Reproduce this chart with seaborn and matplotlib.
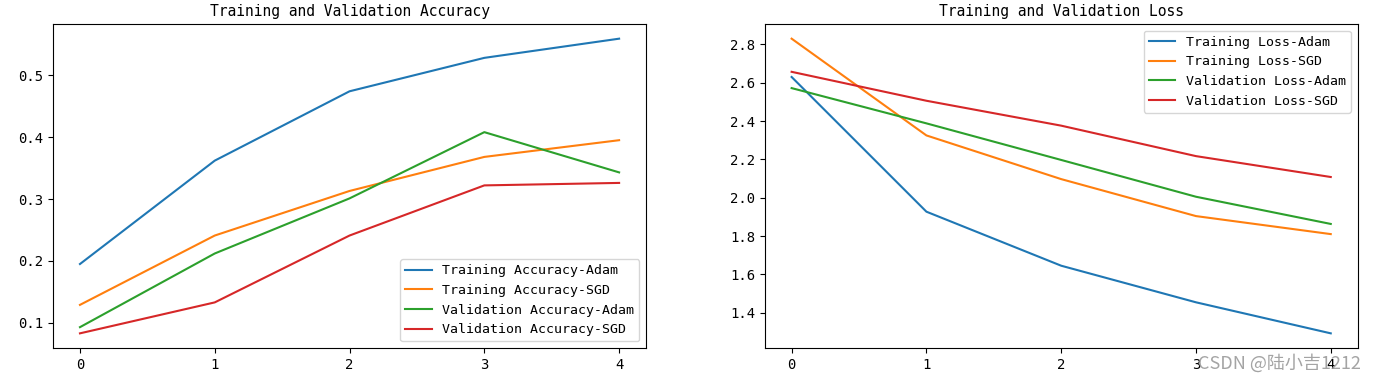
import numpy as np
import pandas as pd
import matplotlib
matplotlib.use("Agg")
import matplotlib.pyplot as plt
import seaborn as sns

# ── Data ───────────────────────────────────────────────────────────────────
epochs = [0, 1, 2, 3, 4]

train_acc_adam = [0.195, 0.362, 0.474, 0.528, 0.559]
train_acc_sgd  = [0.129, 0.241, 0.313, 0.368, 0.395]
val_acc_adam   = [0.093, 0.212, 0.301, 0.408, 0.343]
val_acc_sgd    = [0.083, 0.133, 0.241, 0.322, 0.326]

train_loss_adam = [2.630, 1.927, 1.645, 1.454, 1.292]
train_loss_sgd  = [2.830, 2.325, 2.097, 1.904, 1.810]
val_loss_adam   = [2.572, 2.388, 2.197, 2.005, 1.863]
val_loss_sgd    = [2.657, 2.506, 2.376, 2.217, 2.108]

acc_labels  = ["Training Accuracy-Adam", "Training Accuracy-SGD",
               "Validation Accuracy-Adam", "Validation Accuracy-SGD"]
loss_labels = ["Training Loss-Adam", "Training Loss-SGD",
               "Validation Loss-Adam", "Validation Loss-SGD"]

COLORS = ["#1f77b4", "#ff7f0e", "#2ca02c", "#d62728"]
MONO = ["DejaVu Sans Mono", "Noto Sans CJK SC"]

plt.rcParams.update({
    "font.family": MONO,
    "font.size": 10,
    "axes.unicode_minus": False,
})


def long_form(labels, series):
    rows = []
    for lab, vals in zip(labels, series):
        for e, v in zip(epochs, vals):
            rows.append({"epoch": e, "value": v, "series": lab})
    return pd.DataFrame(rows)


acc_df = long_form(acc_labels, [train_acc_adam, train_acc_sgd, val_acc_adam, val_acc_sgd])
loss_df = long_form(loss_labels, [train_loss_adam, train_loss_sgd, val_loss_adam, val_loss_sgd])

fig, (ax1, ax2) = plt.subplots(1, 2, figsize=(13.77, 3.8), dpi=100)
fig.subplots_adjust(left=0.0385, right=0.986, top=0.937, bottom=0.084, wspace=0.2)

sns.lineplot(data=acc_df, x="epoch", y="value", hue="series",
             palette=COLORS, linewidth=1.5, ax=ax1)
ax1.set_title("Training and Validation Accuracy", fontsize=10.5)
ax1.set_xlabel("")
ax1.set_ylabel("")
ax1.set_xticks(epochs)
ax1.set_yticks([0.1, 0.2, 0.3, 0.4, 0.5])
ax1.legend(loc="lower right", fontsize=9.5, title=None)

sns.lineplot(data=loss_df, x="epoch", y="value", hue="series",
             palette=COLORS, linewidth=1.5, ax=ax2)
ax2.set_title("Training and Validation Loss", fontsize=10.5)
ax2.set_xlabel("")
ax2.set_ylabel("")
ax2.set_xticks(epochs)
ax2.set_yticks([1.4, 1.6, 1.8, 2.0, 2.2, 2.4, 2.6, 2.8])
ax2.legend(loc="upper right", fontsize=9.5, title=None)

# watermark (overlaps the last tick label, as in the reference)
fig.text(0.988, 0.045, "CSDN @陆小吉1212", ha="right", va="center",
         fontsize=13, color="#9a9a9a", alpha=0.9,
         family=["Noto Sans CJK SC", "DejaVu Sans"])

fig.savefig("out.png", dpi=100)
plt.close(fig)
